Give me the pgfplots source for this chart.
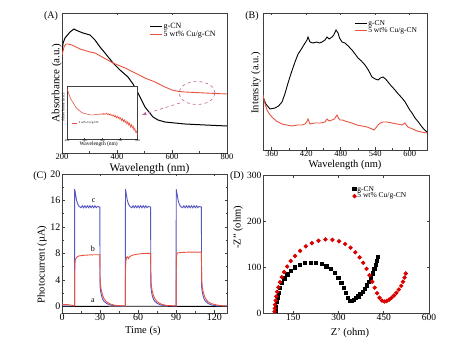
\documentclass[border=0pt]{standalone}
\usepackage{fontspec}
\setmainfont{Liberation Serif}
\usepackage{pgfplots}
\pgfplotsset{compat=1.18}
\definecolor{cured}{RGB}{232,82,62}
\definecolor{pcblue}{RGB}{85,85,195}
\definecolor{ellc}{RGB}{190,95,150}
\pgfplotsset{
  panel/.style={scale only axis, anchor=south west,
    axis line style={line width=0.6pt, black!75},
    tick style={black!75, line width=0.5pt},
    major tick length=2.5bp, minor tick length=1.5bp,
    /pgf/number format/assume math mode=true,
    xticklabel style={inner sep=1bp}, yticklabel style={inner sep=1.5bp},
    legend cell align=left,
    every axis plot/.append style={line width=0.9pt},
  },
  lineleg/.style={legend image code/.code={\draw[##1, line width=0.9pt] (0bp,0bp) -- (12bp,0bp);}},
  markleg/.style={legend image code/.code={\draw[mark repeat=2,mark phase=2,##1] plot coordinates {(0bp,0bp) (5bp,0bp) (10bp,0bp)};}},
}
\begin{document}
\begin{tikzpicture}
\path[use as bounding box] (0,0) rectangle (453bp,343bp);
% ---------------- (A)
\begin{axis}[panel, lineleg, at={(62bp,190bp)}, width=165bp, height=140bp,
  xmin=200, xmax=800, ymin=0, ymax=140,
  xtick={200,400,600,800}, minor xtick={300,500,700}, ytick=\empty,
  tick label style={font=\fontsize{8.5bp}{10bp}\selectfont},
  xticklabel style={inner sep=0.5bp},
  xlabel={Wavelength (nm)}, ylabel={Absorbance (a.u.)},
  xlabel style={font=\fontsize{11.5bp}{13bp}\selectfont, at={(axis description cs:0.53,0)}, anchor=north, yshift=-7.5bp},
  ylabel style={font=\fontsize{11bp}{13bp}\selectfont, at={(axis description cs:-0.032,0.5)}, anchor=center},
  legend style={draw=none, fill=none, font=\fontsize{8bp}{9bp}\selectfont, at={(axis description cs:0.53,0.935)}, anchor=north west, inner sep=0pt, row sep=-1.5bp, nodes={inner sep=1.2bp}},
]
\addplot[black, line width=1pt] coordinates {(200,100)(204,110)(210.9,115)(229.1,121)(243.6,124)(250,123)(258.2,122)(276.4,120)(301.8,118)(320,113)(338.2,106)(356.4,100)(385.5,90)(410.9,83)(440,76)(458.2,69)(476.4,60)(490.9,52)(501.8,46)(516.4,41)(530.9,36)(549.1,33)(574.5,31)(610,30)(647.3,29)(720,28)(800,27)};
\addlegendentry{g-CN}
\addplot[cured] coordinates {(200,98)(207.3,106)(214,109)(221.8,109)(236.4,108)(265.5,104)(301.8,101)(320,100)(352.7,95)(385.5,90)(429.1,85)(465.5,80)(501.8,75)(538.2,71)(574.5,66)(600,63)(625,61.5)(647.3,61)(720,60)(800,59)};
\addlegendentry{5 wt\% Cu/g-CN}
\draw[ellc, dashed, line width=0.6pt] (axis cs:691,60) ellipse [x radius=18bp, y radius=11.5bp];
\draw[ellc, dashed, line width=0.6pt, -latex] (axis cs:629,50) -- (axis cs:490,38);
\end{axis}
% inset
\begin{axis}[panel, at={(67bp,204bp)}, width=70.5bp, height=53bp,
  axis background/.style={fill=white},
  axis line style={line width=0.5pt, black!75},
  xmin=400, xmax=800, ymin=0, ymax=55,
  xtick={400,500,600,700,800}, ytick=\empty, major tick length=1.2bp,
  tick label style={font=\fontsize{3bp}{3.5bp}\selectfont},
  xticklabel style={inner sep=0.5bp},
  xlabel={Wavelength (nm)}, ylabel={Absorbance (a.u.)},
  xlabel style={font=\fontsize{5.5bp}{6bp}\selectfont, at={(axis description cs:0.45,0)}, anchor=center, yshift=-5bp},
  ylabel style={font=\fontsize{4bp}{5bp}\selectfont, at={(axis description cs:-0.05,0.6)}, anchor=center},
  legend style={draw=none, fill=none, font=\fontsize{3bp}{3.5bp}\selectfont, at={(axis description cs:0.06,0.3)}, anchor=west, inner sep=0pt},
  legend image code/.code={\draw[#1, line width=0.5pt] (0bp,0bp) -- (5bp,0bp);},
]
\addplot[cured, line width=0.6pt] coordinates {(400,52)(405,50)(410,47)(420,42)(430,39)(440,36)(450,33)(460,31)(470,29.5)(480,28)(490,27)(500,26.5)(510,26)(520,25.5)(530,25)(540,25)(550,25)(560,25.2)(570,25.8)(580,25.5)(590,26)(600,25.6)(605,26.5)(610,25.5)(615,26.4)(620,25.8)(625,26.8)(630,25.4)(635,26.2)(640,25)(645,26)(650,24.2)(655,25.2)(660,23.8)(665,25)(670,23)(675,24.2)(680,22)(685,23.8)(690,21.5)(695,22.8)(700,20.5)(705,22)(710,19)(715,21)(720,18)(725,20)(730,17)(735,18.8)(740,15.5)(745,18)(750,14.5)(755,16.5)(760,12.5)(765,15)(770,11.5)(775,13.5)(780,9)(785,11)(790,7)(795,8)(800,4)};
\addlegendentry{5 wt\% Cu/g-CN}
\end{axis}
\node[font=\fontsize{10bp}{12bp}\selectfont] at (51bp,327bp) {(A)};
% ---------------- (B)
\begin{axis}[panel, lineleg, at={(263bp,193bp)}, width=164bp, height=137bp,
  xmin=345, xmax=630, ymin=0, ymax=137,
  xtick={360,420,480,540,600}, minor xtick={390,450,510,570}, ytick=\empty,
  tick label style={font=\fontsize{8.5bp}{10bp}\selectfont},
  xticklabel style={inner sep=0.5bp},
  xlabel={Wavelength (nm)}, ylabel={Intensity (a.u.)},
  xlabel style={font=\fontsize{10.5bp}{12bp}\selectfont, at={(axis description cs:0.5,0)}, anchor=north, yshift=-7bp},
  ylabel style={font=\fontsize{10.5bp}{12bp}\selectfont, at={(axis description cs:-0.043,0.49)}, anchor=center},
  legend style={draw=none, fill=none, font=\fontsize{7.5bp}{9bp}\selectfont, at={(axis description cs:0.555,0.955)}, anchor=north west, inner sep=0pt, row sep=-2bp, nodes={inner sep=1.2bp}},
]
\addplot[black] coordinates {(345,53)(350,46)(357.2,41)(365.9,42)(372,44)(378,48)(383,56)(388.5,67)(394,77)(400.6,88)(406,96)(412.8,102)(417,106)(421.5,110)(423.2,113)(426.7,108)(431.9,107)(438,108)(443,107)(447.5,108)(452.8,110)(456.2,113)(460,111)(464.9,113)(468,115)(471.9,120)(475.4,117)(478,112)(482.3,108)(487.5,107)(493,104)(499.7,100)(505,96)(510.1,92)(516,89)(522.3,85)(528,80)(534.4,73)(540,71)(544.9,70)(549,72)(553.6,73)(558,71)(562.3,68)(568,64)(574.4,60)(580,56)(586.6,52)(592,48)(597,43)(600,40)(604,37)(609.2,32)(615,28)(621.3,23)(626,20)(630,18)};
\addlegendentry{g-CN}
\addplot[cured] coordinates {(345,55)(348,47)(352,40)(356,36)(360.6,33)(368,29)(378,26)(386,25)(395.4,24)(405,25)(413,25)(418,26)(421,28)(423.2,31)(426.7,26)(435,27)(445,27)(452.8,28)(456.2,31)(460,29)(464.9,30)(469,31)(473.6,35)(476,32)(478.8,30)(483,30)(487.5,29)(493,28)(499.7,27)(508,25)(517,24)(526,23)(534.4,21)(537.9,20)(541,22)(544.9,25)(549,27)(553.6,28)(560,28)(569.2,27)(578,26)(586.6,25)(591.8,27)(594,25)(597,23)(605,21)(612.7,19)(620,18)(630,17)};
\addlegendentry{5 wt\% Cu/g-CN}
\end{axis}
\node[font=\fontsize{10bp}{12bp}\selectfont] at (252bp,327bp) {(B)};
% ---------------- (C)
\begin{axis}[panel, at={(62bp,30bp)}, width=165bp, height=139bp,
  xmin=0, xmax=130, ymin=-1, ymax=20,
  xtick={0,30,60,90,120}, minor xtick={15,45,75,105},
  ytick={0,4,8,12,16,20}, minor ytick={2,6,10,14,18},
  tick label style={font=\fontsize{10bp}{12bp}\selectfont},
  xlabel={Time (s)}, ylabel={Photocurrent (\textmu A)},
  xlabel style={font=\fontsize{10.5bp}{12bp}\selectfont, at={(axis description cs:0.49,0)}, anchor=north, yshift=-9.5bp},
  ylabel style={font=\fontsize{10.5bp}{12bp}\selectfont, at={(axis description cs:-0.121,0.35)}, anchor=center},
]
\addplot[black, line width=0.8pt] coordinates {(0,0)(30,0)(60,0.02)(90,0)(130,0)};
\addplot[pcblue] coordinates {(0,0.05)(9.9,0.05)(10,17.7)(10.3,17.4)(10.8,16.8)(11.5,16.0)(12.5,15.4)(13.5,15.1)(15,14.9)(16,15.2)(17,14.9)(18,15.2)(19,14.9)(20,15.2)(21,14.9)(22,15.2)(23,14.9)(24,15.2)(25,14.9)(26,15.2)(27,14.9)(28,15.1)(29.8,15.0)(30,3.0)(30.5,2.2)(31,1.7)(32,1.1)(33,0.8)(35,0.45)(38,0.2)(42,0.08)(49.9,0.05)
(50,17.7)(50.3,17.4)(50.8,16.8)(51.5,16.0)(52.5,15.4)(53.5,15.1)(55,14.9)(56,15.2)(57,14.9)(58,15.2)(59,14.9)(60,15.2)(61,14.9)(62,15.2)(63,14.9)(64,15.2)(65,14.9)(66,15.2)(67,14.9)(68,15.1)(69.8,15.0)(70,3.0)(70.5,2.2)(71,1.7)(72,1.1)(73,0.8)(75,0.45)(78,0.2)(82,0.08)(89.9,0.05)
(90,17.7)(90.3,17.4)(90.8,16.8)(91.5,16.0)(92.5,15.4)(93.5,15.1)(95,14.9)(96,15.2)(97,14.9)(98,15.2)(99,14.9)(100,15.2)(101,14.9)(102,15.2)(103,14.9)(104,15.2)(105,14.9)(106,15.2)(107,14.9)(108,15.1)(109.8,15.0)(110,3.0)(110.5,2.2)(111,1.7)(112,1.1)(113,0.8)(115,0.45)(118,0.2)(122,0.08)(130,0.05)};
\addplot[cured] coordinates {(0,0.3)(5,0.25)(9.9,0.1)(10,5.0)(10.2,6.5)(10.6,7.1)(11.5,7.4)(13,7.6)(16,7.7)(20,7.75)(25,7.8)(29.8,7.8)(30,4.0)(30.5,3.0)(31,2.4)(32,1.7)(33,1.2)(35,0.7)(38,0.35)(42,0.15)(49.9,0.05)
(50,5.0)(50.3,6.8)(50.8,7.4)(51.5,7.5)(52.3,7.2)(53.2,7.5)(55,7.7)(58,7.85)(62,7.95)(66,8.0)(69.8,8.0)(70,4.0)(70.5,3.0)(71,2.4)(72,1.7)(73,1.2)(75,0.7)(78,0.35)(82,0.15)(89.9,0.05)
(90,5.5)(90.2,7.5)(90.6,8.0)(91.5,8.1)(95,8.15)(100,8.2)(105,8.2)(109.8,8.2)(110,4.0)(110.5,3.0)(111,2.4)(112,1.7)(113,1.2)(115,0.7)(118,0.4)(122,0.2)(126,0.1)(130,0.05)};
\node[font=\fontsize{8bp}{9bp}\selectfont] at (axis cs:25,15.9) {c};
\node[font=\fontsize{8bp}{9bp}\selectfont] at (axis cs:24.4,8.7) {b};
\node[font=\fontsize{8bp}{9bp}\selectfont] at (axis cs:24.4,0.9) {a};
\end{axis}
\node[font=\fontsize{10bp}{12bp}\selectfont] at (40bp,167bp) {(C)};
% ---------------- (D)
\begin{axis}[panel, markleg, at={(263bp,30bp)}, width=166bp, height=138bp,
  xmin=50, xmax=600, ymin=0, ymax=300,
  xtick={150,300,450,600}, ytick={0,100,200,300},
  tick label style={font=\fontsize{9.5bp}{11bp}\selectfont},
  xlabel={Z' (ohm)}, ylabel={-Z'' (ohm)},
  xlabel style={font=\fontsize{10.5bp}{12bp}\selectfont, at={(axis description cs:0.524,0)}, anchor=north, yshift=-12bp},
  ylabel style={font=\fontsize{10.5bp}{12bp}\selectfont, at={(axis description cs:-0.15,0.62)}, anchor=center},
  legend style={draw=none, fill=none, font=\fontsize{7.5bp}{9bp}\selectfont, at={(axis description cs:0.54,0.93)}, anchor=north west, inner sep=0pt, row sep=-2bp, nodes={inner sep=1.2bp}},
]
\addplot[only marks, mark=square*, mark size=1.6bp, black] coordinates {(93,5)(94,14)(96,24)(99,34)(102,44)(107,55)(113,65)(121,75)(131,84)(143,92)(157,99)(173,104)(190,108)(208,109)(226,109)(244,106)(260,101)(275,95)(288,87)(300,77)(310,66)(319,54)(326,43)(332,33)(338,27)(345,27)(352,29)(359,32)(366,36)(373,41)(380,46)(387,53)(394,60)(401,68)(408,77)(414,86)(419,95)(424,104)(428,113)(432,122)};
\addlegendentry{g-CN}
\addplot[only marks, mark=*, mark size=1.7bp, red!85!black] coordinates {(88,3)(89,10)(90,18)(92,27)(94,36)(97,46)(101,56)(106,67)(112,78)(120,89)(130,101)(142,113)(156,124)(173,135)(192,145)(212,152)(234,157)(257,160)(280,159)(302,156)(322,150)(340,142)(356,132)(370,121)(382,109)(393,96)(403,82)(412,68)(420,55)(428,43)(436,33)(444,27)(452,25)(460,26)(468,29)(476,33)(484,38)(492,44)(500,51)(508,59)(514,68)(519,77)(523,86)};
\addlegendentry{5 wt\% Cu/g-CN}
\end{axis}
\node[font=\fontsize{10bp}{12bp}\selectfont] at (237bp,167bp) {(D)};
\end{tikzpicture}
\end{document}
